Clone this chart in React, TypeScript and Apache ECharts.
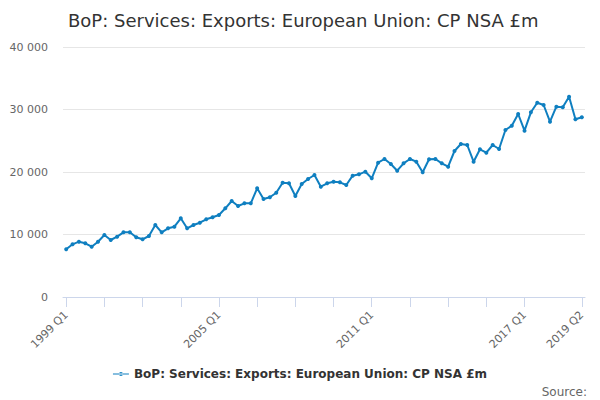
import React, { useEffect, useRef } from "react";
import * as echarts from "echarts";

const quarters: string[] = [];
for (let y = 1999; y <= 2019; y++) {
  for (let q = 1; q <= 4; q++) {
    if (y === 2019 && q > 2) break;
    quarters.push(`${y} Q${q}`);
  }
}

const seriesName = "BoP: Services: Exports: European Union: CP NSA £m";

const values1999to2004 = [
  7630, 8430, 8850, 8590, 8050, 8850, 9920, 9120,
  9650, 10350, 10350, 9550, 9230, 9760, 11520, 10350,
  10990, 11250, 12590, 10990, 11520, 11890, 12430, 12750,
];
const values2005to2010 = [
  13120, 14190, 15360, 14560, 14990, 14990, 17390, 15680,
  15950, 16690, 18290, 18190, 16160, 18080, 18880, 19520,
  17650, 18190, 18450, 18350, 17920, 19410, 19630, 20050,
];
const values2011to2016 = [
  18990, 21490, 22080, 21280, 20210, 21390, 22080, 21650,
  19950, 22030, 22080, 21390, 20850, 23360, 24480, 24320,
  21650, 23630, 23090, 24320, 23680, 26720, 27410, 29280,
];
const values2017to2019 = [
  26610, 29550, 31090, 30720, 28050, 30450, 30350, 32050,
  28430, 28750,
];
const values = [
  ...values1999to2004,
  ...values2005to2010,
  ...values2011to2016,
  ...values2017to2019,
];

const yTicks = [0, 10000, 20000, 30000, 40000];
const xTickIdx = [0, 6, 12, 18, 24, 30, 36, 42, 48, 54, 60, 66, 72, 81];
const xLabelIdx = [0, 24, 48, 72, 81];

const FONT = "DejaVu Sans";

export default function App() {
  const ref = useRef<HTMLDivElement>(null);
  useEffect(() => {
    if (!ref.current) return;
    const chart = echarts.init(ref.current, undefined, { renderer: "svg" });
    chart.setOption({
      animation: false,
      backgroundColor: "#ffffff",
      title: [
        {
          text: seriesName,
          left: 63,
          top: 6,
          textStyle: { fontFamily: FONT, fontSize: 18, fontWeight: "normal", color: "#333333" },
        },
        {
          text: "Source:",
          right: 8,
          top: 381,
          textStyle: { fontFamily: FONT, fontSize: 12, fontWeight: "normal", color: "#666666" },
        },
      ],
      legend: {
        bottom: 15,
        left: "center",
        itemWidth: 16,
        itemHeight: 8,
        itemGap: 6,
        textStyle: { fontFamily: FONT, fontSize: 12, fontWeight: "bold", color: "#333333" },
        data: [{ name: seriesName, icon: "path://M0,3.5 L16,3.5 L16,4.5 L0,4.5 Z M6,4 A2,2 0 1 0 10,4 A2,2 0 1 0 6,4 Z" }],
      },
      grid: { left: 63, right: 15, top: 47, bottom: 103, containLabel: false },
      xAxis: {
        type: "value",
        min: -0.5,
        max: 81.5,
        splitLine: { show: false },
        axisLine: { show: true, lineStyle: { color: "#ccd6eb", width: 1 } },
        axisTick: {
          show: true,
          length: 10,
          lineStyle: { color: "#ccd6eb" },
          customValues: xTickIdx,
        },
        axisLabel: {
          customValues: xLabelIdx,
          rotate: 45,
          margin: 16,
          fontFamily: FONT,
          fontSize: 11,
          color: "#666666",
          formatter: (v: number) => quarters[Math.round(v)] ?? "",
        },
      },
      yAxis: {
        type: "value",
        min: 0,
        max: 40000,
        interval: 10000,
        axisLine: { show: false },
        axisTick: { show: false },
        splitLine: { lineStyle: { color: "#e6e6e6", width: 1 } },
        axisLabel: {
          margin: 15,
          fontFamily: FONT,
          fontSize: 11,
          color: "#666666",
          formatter: (v: number) =>
            yTicks.includes(v) ? String(v).replace(/\B(?=(\d{3})+(?!\d))/g, " ") : "",
        },
      },
      series: [
        {
          name: seriesName,
          type: "line",
          data: values.map((v, i) => [i, v]),
          symbol: "circle",
          symbolSize: 4,
          showSymbol: true,
          lineStyle: { color: "#0f7fc0", width: 2 },
          itemStyle: { color: "#0f7fc0" },
          emphasis: { disabled: true },
        },
      ],
    });
    return () => chart.dispose();
  }, []);
  return (
    <div
      ref={ref}
      style={{ position: "fixed", left: 0, top: 0, width: 600, height: 400 }}
    />
  );
}
